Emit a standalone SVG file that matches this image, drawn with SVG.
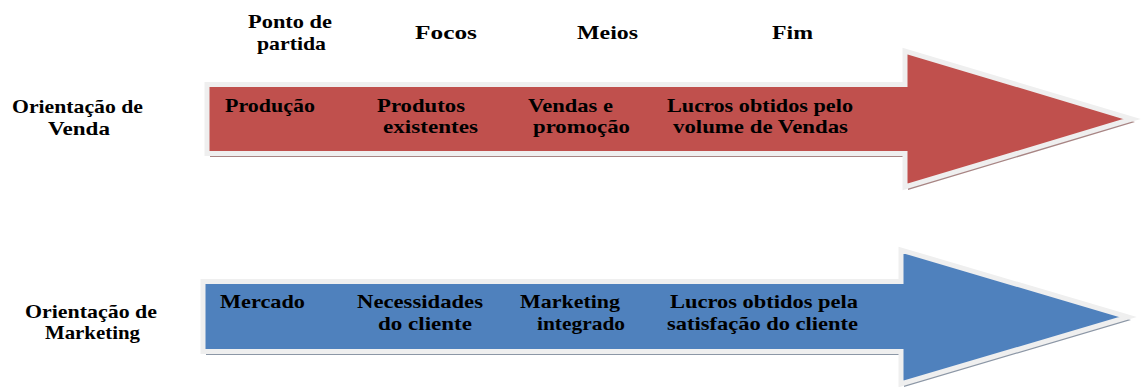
<svg xmlns="http://www.w3.org/2000/svg" width="1146" height="387" viewBox="0 0 1146 387">
<defs>
<style>
.body{stroke:#efefef;stroke-width:5;stroke-linejoin:miter;stroke-miterlimit:10}
</style>
</defs>
<rect width="1146" height="387" fill="#fff"/>
<g font-family="Liberation Serif, Times New Roman, Times, serif" font-weight="bold" font-size="19" fill="#000">
<g id="headers">
<text x="248" y="28" textLength="84" lengthAdjust="spacingAndGlyphs">Ponto de</text>
<text x="257" y="50" textLength="69" lengthAdjust="spacingAndGlyphs">partida</text>
<text x="415" y="39" textLength="62" lengthAdjust="spacingAndGlyphs">Focos</text>
<text x="577" y="39" textLength="61" lengthAdjust="spacingAndGlyphs">Meios</text>
<text x="772" y="39" textLength="41" lengthAdjust="spacingAndGlyphs">Fim</text>
</g>
<g id="venda">
<polygon points="210,88 908,88 908,55 1135,122 908,190 908,157 210,157" fill="#a88584"/>
<polygon class="body" points="207,84.5 905,84.5 905,51 1132,119 905,187 905,153.5 207,153.5" fill="#c0504d"/>
<text x="12" y="113" textLength="131" lengthAdjust="spacingAndGlyphs">Orientação de</text>
<text x="48" y="135" textLength="62" lengthAdjust="spacingAndGlyphs">Venda</text>
<text x="225" y="112" textLength="90" lengthAdjust="spacingAndGlyphs">Produção</text>
<text x="377" y="112" textLength="88" lengthAdjust="spacingAndGlyphs">Produtos</text>
<text x="383" y="133" textLength="95" lengthAdjust="spacingAndGlyphs">existentes</text>
<text x="528" y="112" textLength="85" lengthAdjust="spacingAndGlyphs">Vendas e</text>
<text x="533" y="133" textLength="97" lengthAdjust="spacingAndGlyphs">promoção</text>
<text x="667" y="112" textLength="186" lengthAdjust="spacingAndGlyphs">Lucros obtidos pelo</text>
<text x="673" y="133" textLength="175" lengthAdjust="spacingAndGlyphs">volume de Vendas</text>
</g>
<g id="marketing">
<polygon points="206,285 904,285 904,254 1131,320 904,387 904,355 206,355" fill="#8c97a6"/>
<polygon class="body" points="203,281.5 901,281.5 901,250 1128,317 901,384 901,351.5 203,351.5" fill="#4f81bd"/>
<text x="25" y="318" textLength="132" lengthAdjust="spacingAndGlyphs">Orientação de</text>
<text x="45" y="339" textLength="95" lengthAdjust="spacingAndGlyphs">Marketing</text>
<text x="220" y="308" textLength="85" lengthAdjust="spacingAndGlyphs">Mercado</text>
<text x="357" y="308" textLength="126" lengthAdjust="spacingAndGlyphs">Necessidades</text>
<text x="378" y="330" textLength="94" lengthAdjust="spacingAndGlyphs">do cliente</text>
<text x="520" y="308" textLength="100" lengthAdjust="spacingAndGlyphs">Marketing</text>
<text x="537" y="330" textLength="88" lengthAdjust="spacingAndGlyphs">integrado</text>
<text x="670" y="308" textLength="188" lengthAdjust="spacingAndGlyphs">Lucros obtidos pela</text>
<text x="667" y="330" textLength="191" lengthAdjust="spacingAndGlyphs">satisfação do cliente</text>
</g>
</g>
</svg>
